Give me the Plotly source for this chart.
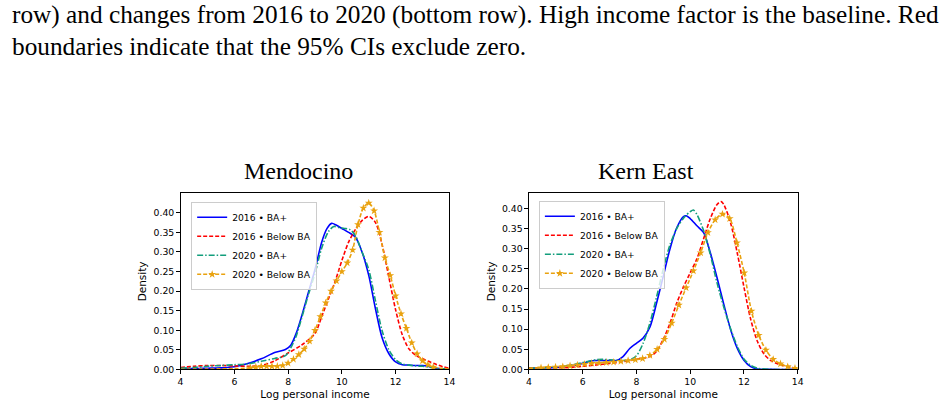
import plotly.graph_objects as go

# ---------------- data ----------------
# Mendocino
m_blue_x = [4.0, 4.5, 5.0, 5.5, 6.0, 6.5, 7.0, 7.5, 7.9, 8.1, 8.3, 8.5, 8.75, 9.0, 9.25, 9.45, 9.62, 9.8,
            10.0, 10.25, 10.5, 10.75, 11.0, 11.25, 11.5, 11.75, 12.0, 12.25, 12.5, 12.75, 13.0, 13.25, 13.5, 14.0]
m_blue_y = [0.002, 0.002, 0.003, 0.004, 0.007, 0.015, 0.027, 0.043, 0.051, 0.062, 0.092, 0.135, 0.195, 0.255,
            0.325, 0.36, 0.373, 0.368, 0.36, 0.35, 0.338, 0.30, 0.24, 0.155, 0.08, 0.04, 0.019, 0.012, 0.011,
            0.01, 0.01, 0.007, 0.003, 0.001]

m_red_x = [4.0, 4.5, 5.0, 5.5, 6.0, 6.5, 7.0, 7.5, 8.0, 8.5, 9.0, 9.25, 9.5, 9.75, 10.0, 10.25, 10.5, 10.75,
           11.0, 11.25, 11.5, 11.75, 12.0, 12.25, 12.5, 12.75, 13.0, 13.25, 13.5, 13.75, 14.0]
m_red_y = [0.005, 0.008, 0.01, 0.01, 0.009, 0.008, 0.01, 0.022, 0.042, 0.062, 0.092, 0.135, 0.18, 0.225, 0.278,
           0.325, 0.357, 0.38, 0.391, 0.375, 0.318, 0.235, 0.152, 0.088, 0.052, 0.036, 0.027, 0.02, 0.013,
           0.007, 0.003]

m_green_x = [4.0, 4.5, 5.0, 5.5, 6.0, 6.5, 7.0, 7.5, 7.9, 8.1, 8.3, 8.5, 8.75, 9.0, 9.25, 9.5, 9.7, 9.9,
             10.1, 10.3, 10.5, 10.75, 11.0, 11.25, 11.5, 11.75, 12.0, 12.25, 12.5, 12.75, 13.0, 13.25, 13.5, 14.0]
m_green_y = [0.003, 0.005, 0.008, 0.01, 0.012, 0.014, 0.021, 0.028, 0.035, 0.055, 0.085, 0.13, 0.19, 0.245,
             0.31, 0.352, 0.365, 0.362, 0.36, 0.357, 0.342, 0.30, 0.255, 0.175, 0.098, 0.05, 0.025, 0.014,
             0.011, 0.009, 0.008, 0.006, 0.003, 0.001]

m_orange_x = [6.6, 6.8, 7.0, 7.2, 7.4, 7.6, 7.8, 8.0, 8.2, 8.4, 8.6, 8.8, 9.0, 9.2, 9.4, 9.6, 9.8, 10.0,
              10.2, 10.4, 10.6, 10.8, 11.0, 11.2, 11.4, 11.6, 11.8, 12.0, 12.2, 12.4, 12.6, 12.8, 13.0,
              13.2, 13.4]
m_orange_y = [0.004, 0.006, 0.008, 0.008, 0.008, 0.008, 0.010, 0.016, 0.026, 0.038, 0.052, 0.072, 0.100,
              0.135, 0.170, 0.200, 0.226, 0.250, 0.272, 0.305, 0.370, 0.412, 0.425, 0.405, 0.350, 0.285,
              0.240, 0.188, 0.142, 0.105, 0.068, 0.040, 0.022, 0.012, 0.006]
m_orange_tail_l_x = [4.0, 5.0, 6.0, 6.4, 6.6]
m_orange_tail_l_y = [0.0005, 0.001, 0.002, 0.003, 0.004]
m_orange_tail_r_x = [13.4, 13.7, 14.0]
m_orange_tail_r_y = [0.006, 0.003, 0.001]

# Kern East
k_blue_x = [4.0, 4.5, 5.0, 5.5, 6.0, 6.25, 6.5, 7.0, 7.25, 7.5, 7.75, 8.0, 8.25, 8.5, 8.75, 9.0, 9.25, 9.5,
            9.75, 9.85, 10.0, 10.25, 10.5, 10.75, 11.0, 11.25, 11.5, 11.75, 12.0, 12.25, 12.5, 13.0, 14.0]
k_blue_y = [0.003, 0.004, 0.005, 0.008, 0.015, 0.02, 0.022, 0.022, 0.022, 0.032, 0.052, 0.065, 0.078, 0.105,
            0.165, 0.232, 0.30, 0.352, 0.38, 0.382, 0.375, 0.357, 0.34, 0.29, 0.228, 0.162, 0.10, 0.053,
            0.023, 0.007, 0.001, 0.0, 0.0]

k_red_x = [4.0, 4.5, 5.0, 5.5, 6.0, 6.5, 7.0, 7.5, 8.0, 8.5, 8.75, 9.0, 9.25, 9.5, 9.75, 10.0, 10.25, 10.5,
           10.75, 11.0, 11.15, 11.25, 11.5, 11.75, 12.0, 12.25, 12.5, 12.75, 13.0, 13.25, 13.5, 13.75, 14.0]
k_red_y = [0.004, 0.004, 0.004, 0.005, 0.008, 0.011, 0.015, 0.019, 0.025, 0.032, 0.045, 0.075, 0.115, 0.165,
           0.205, 0.24, 0.275, 0.325, 0.375, 0.41, 0.417, 0.41, 0.365, 0.29, 0.205, 0.125, 0.07, 0.038,
           0.022, 0.014, 0.009, 0.005, 0.003]

k_green_x = [4.0, 4.5, 5.0, 5.5, 6.0, 6.5, 6.75, 7.0, 7.5, 7.75, 8.0, 8.25, 8.5, 8.75, 9.0, 9.25, 9.5, 9.75,
             10.0, 10.12, 10.25, 10.5, 10.75, 11.0, 11.25, 11.5, 11.75, 12.0, 12.25, 12.5, 13.0, 14.0]
k_green_y = [0.003, 0.004, 0.006, 0.01, 0.017, 0.024, 0.025, 0.024, 0.022, 0.024, 0.034, 0.065, 0.115, 0.18,
             0.25, 0.31, 0.35, 0.376, 0.392, 0.396, 0.385, 0.345, 0.285, 0.215, 0.155, 0.102, 0.058, 0.026,
             0.01, 0.003, 0.0, 0.0]

k_orange_x = [4.45, 4.72, 4.99, 5.26, 5.53, 5.80, 6.07, 6.34, 6.61, 6.88, 7.15, 7.42, 7.69, 7.96, 8.23, 8.50,
              8.77, 9.04, 9.31, 9.58, 9.85, 10.12, 10.39, 10.66, 10.93, 11.20, 11.47, 11.74, 12.01, 12.28,
              12.55, 12.82, 13.09, 13.36, 13.63, 13.90]
k_orange_y = [0.004, 0.005, 0.006, 0.007, 0.009, 0.011, 0.013, 0.015, 0.016, 0.017, 0.018, 0.020, 0.022,
              0.024, 0.027, 0.035, 0.050, 0.075, 0.115, 0.160, 0.203, 0.245, 0.290, 0.340, 0.372, 0.386,
              0.375, 0.315, 0.240, 0.145, 0.085, 0.048, 0.025, 0.014, 0.007, 0.003]
k_orange_tail_l_x = [4.0, 4.45]
k_orange_tail_l_y = [0.003, 0.004]
k_orange_tail_r_x = [13.90, 14.0]
k_orange_tail_r_y = [0.003, 0.002]

legend_names = ["2016 \u2022 BA+", "2016 \u2022 Below BA", "2020 \u2022 BA+", "2020 \u2022 Below BA"]
titles = ["Mendocino", "Kern East"]
caption_line1 = "row) and changes from 2016 to 2020 (bottom row). High income factor is the baseline. Red"
caption_line2 = "boundaries indicate that the 95% CIs exclude zero."

x_ticks = [4, 6, 8, 10, 12, 14]
y_ticks = [0.0, 0.05, 0.10, 0.15, 0.20, 0.25, 0.30, 0.35, 0.40]

# ---------------- styling ----------------
C_BLUE = "#0000ff"
C_RED = "#ff0000"
C_GREEN = "#129e7c"
C_ORANGE = "#e9a20f"
LW = 1.6
SANS = "DejaVu Sans"
SERIF = "Liberation Serif"

fig = go.Figure()


def add_panel(xa, ya, leg, bx, by, rx, ry, gx, gy, ox, oy, tlx, tly, trx, try_):
    common = dict(xaxis=xa, yaxis=ya, legend=leg, mode="lines", line_shape="spline")
    fig.add_trace(go.Scatter(x=bx, y=by, name=legend_names[0],
                             line=dict(color=C_BLUE, width=LW, smoothing=0.8), **common))
    fig.add_trace(go.Scatter(x=rx, y=ry, name=legend_names[1],
                             line=dict(color=C_RED, width=LW, dash="4px,2px", smoothing=0.8), **common))
    fig.add_trace(go.Scatter(x=gx, y=gy, name=legend_names[2],
                             line=dict(color=C_GREEN, width=LW, dash="6px,2px,1.5px,2px", smoothing=0.8),
                             **common))
    for tx, ty in ((tlx, tly), (trx, try_)):
        fig.add_trace(go.Scatter(x=tx, y=ty, showlegend=False, hoverinfo="skip",
                                 line=dict(color=C_ORANGE, width=LW, dash="4px,2px", smoothing=0.8),
                                 **common))
    c2 = dict(common)
    c2["mode"] = "lines+markers"
    fig.add_trace(go.Scatter(x=ox, y=oy, name=legend_names[3],
                             line=dict(color=C_ORANGE, width=LW, dash="4px,2px", smoothing=0.8),
                             marker=dict(symbol="star", size=6, color=C_ORANGE,
                                         line=dict(width=0)), **c2))


add_panel("x", "y", "legend", m_blue_x, m_blue_y, m_red_x, m_red_y, m_green_x, m_green_y,
          m_orange_x, m_orange_y, m_orange_tail_l_x, m_orange_tail_l_y, m_orange_tail_r_x, m_orange_tail_r_y)
add_panel("x2", "y2", "legend2", k_blue_x, k_blue_y, k_red_x, k_red_y, k_green_x, k_green_y,
          k_orange_x, k_orange_y, k_orange_tail_l_x, k_orange_tail_l_y, k_orange_tail_r_x, k_orange_tail_r_y)

tick_font = dict(family=SANS, size=9.3, color="black")
title_font = dict(family=SANS, size=10.5, color="black")

xcommon = dict(range=[4, 14], tickvals=x_ticks, ticks="outside", ticklen=3.5, tickwidth=0.8,
               tickcolor="black", showline=True, linecolor="black", linewidth=0.9, mirror=True,
               showgrid=False, zeroline=False, tickfont=tick_font,
               title=dict(text="Log personal income", font=title_font, standoff=4))
ycommon = dict(tickvals=y_ticks, tickformat=".2f", ticks="outside", ticklen=3.5, tickwidth=0.8,
               tickcolor="black", showline=True, linecolor="black", linewidth=0.9, mirror=True,
               showgrid=False, zeroline=False, tickfont=tick_font,
               title=dict(text="Density", font=title_font, standoff=4))

legend_common = dict(font=dict(family=SANS, size=9.2, color="black"), bgcolor="rgba(255,255,255,0.8)",
                     bordercolor="#cccccc", borderwidth=1, xanchor="left", yanchor="top",
                     itemwidth=30, tracegroupgap=0)

fig.update_layout(
    width=947, height=409, autosize=False,
    margin=dict(l=0, r=0, t=0, b=0),
    paper_bgcolor="white", plot_bgcolor="white",
    xaxis=dict(domain=[0.1893, 0.4759], anchor="y", **xcommon),
    yaxis=dict(domain=[0.0856, 0.5215], anchor="x", range=[0, 0.4497], **ycommon),
    xaxis2=dict(domain=[0.5607, 0.8472], anchor="y2", **xcommon),
    yaxis2=dict(domain=[0.0856, 0.5215], anchor="x2", range=[0, 0.4377], **ycommon),
    legend=dict(x=0.2006, y=0.5005, **legend_common),
    legend2=dict(x=0.5713, y=0.503, **legend_common),
    showlegend=True,
)

annotations = [
    dict(text=caption_line1, x=7 / 947, y=1 - 15 / 409, xref="paper", yref="paper", xanchor="left",
         yanchor="middle", showarrow=False, font=dict(family=SERIF, size=25.3, color="black")),
    dict(text=caption_line2, x=7 / 947, y=1 - 47 / 409, xref="paper", yref="paper", xanchor="left",
         yanchor="middle", showarrow=False, font=dict(family=SERIF, size=25.3, color="black")),
    dict(text=titles[0], x=298 / 947, y=1 - 173 / 409, xref="paper", yref="paper", xanchor="center",
         yanchor="middle", showarrow=False, font=dict(family=SERIF, size=24, color="black")),
    dict(text=titles[1], x=649 / 947, y=1 - 173 / 409, xref="paper", yref="paper", xanchor="center",
         yanchor="middle", showarrow=False, font=dict(family=SERIF, size=24, color="black")),
]
fig.update_layout(annotations=annotations)

fig.write_html("out.html")
